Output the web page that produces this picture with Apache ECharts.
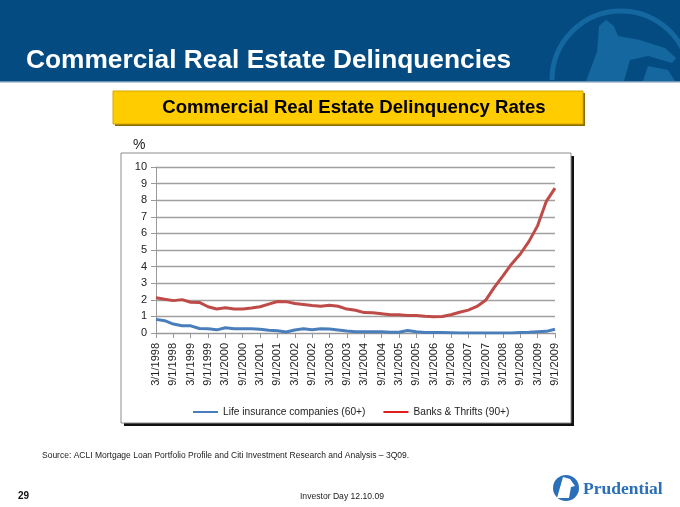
<!DOCTYPE html>
<html><head><meta charset="utf-8">
<script src="https://cdn.jsdelivr.net/npm/echarts@6/dist/echarts.min.js"></script>
<style>html,body{margin:0;padding:0;background:#fff}#c{width:680px;height:507px}</style>
</head><body><div id="c"></div>
<script>
const categories = [
 "3/1/1998","6/1/1998","9/1/1998","12/1/1998",
 "3/1/1999","6/1/1999","9/1/1999","12/1/1999",
 "3/1/2000","6/1/2000","9/1/2000","12/1/2000",
 "3/1/2001","6/1/2001","9/1/2001","12/1/2001",
 "3/1/2002","6/1/2002","9/1/2002","12/1/2002",
 "3/1/2003","6/1/2003","9/1/2003","12/1/2003",
 "3/1/2004","6/1/2004","9/1/2004","12/1/2004",
 "3/1/2005","6/1/2005","9/1/2005","12/1/2005",
 "3/1/2006","6/1/2006","9/1/2006","12/1/2006",
 "3/1/2007","6/1/2007","9/1/2007","12/1/2007",
 "3/1/2008","6/1/2008","9/1/2008","12/1/2008",
 "3/1/2009","6/1/2009","9/1/2009"
];
const lifeInsurance = [
 0.82,0.74,0.54,0.44,0.43,0.27,0.25,0.19,0.32,0.25,0.25,0.25,
 0.23,0.17,0.13,0.06,0.18,0.26,0.19,0.26,0.24,0.18,0.12,0.08,
 0.07,0.08,0.07,0.05,0.04,0.15,0.07,0.03,0.03,0.03,0.02,0.00,
 0.00,0.00,0.00,0.00,0.00,0.00,0.03,0.04,0.08,0.10,0.23
];
const banksThrifts = [
 2.12,2.03,1.95,2.01,1.85,1.84,1.58,1.45,1.52,1.44,1.44,1.50,
 1.58,1.74,1.90,1.89,1.78,1.72,1.66,1.61,1.67,1.61,1.44,1.37,
 1.23,1.22,1.16,1.10,1.10,1.06,1.06,1.01,0.98,0.99,1.10,1.25,
 1.38,1.60,1.97,2.75,3.44,4.16,4.76,5.52,6.47,7.93,8.73
];
const yTicks = [0,1,2,3,4,5,6,7,8,9,10];
const seriesNames = ["Life insurance companies (60+)","Banks & Thrifts (90+)"];
const titleText = "Commercial Real Estate Delinquencies";
const subtitleText = "Commercial Real Estate Delinquency Rates";
const sourceText = "Source: ACLI Mortgage Loan Portfolio Profile and Citi Investment Research and Analysis \u2013 3Q09.";

const FONT = '"Liberation Sans", Arial, sans-serif';
const chart = echarts.init(document.getElementById('c'), null, {renderer:'canvas'});
chart.setOption({
  animation:false,
  backgroundColor:'#ffffff',
  textStyle:{fontFamily:FONT},
  graphic:[
    // header band
    {type:'rect', z:-20, shape:{x:0,y:0,width:680,height:82}, style:{fill:'#034b80'}},
    {type:'rect', z:-19, shape:{x:0,y:81,width:680,height:1.5}, style:{fill:'#6f93b3'}},
    {type:'arc', z:-18, shape:{cx:621,cy:80,r:69,startAngle:Math.PI*1.0,endAngle:Math.PI*1.92}, style:{stroke:'#15679f',lineWidth:5,fill:null}},
    {type:'polygon', z:-18, shape:{points:[[586,81],[597,52],[599,26],[606,20],[614,26],[618,36],[640,40],[665,48],[676,58],[672,63],[648,56],[630,60],[624,81]]}, style:{fill:'#15679f'}},
    {type:'polygon', z:-18, shape:{points:[[643,81],[648,66],[668,70],[675,81]]}, style:{fill:'#15679f'}},
    {type:'text', z:-10, style:{x:26,y:61,text:titleText,fill:'#ffffff',font:'bold 26.3px '+FONT,textVerticalAlign:'middle'}},
    // yellow subtitle box
    {type:'rect', z:-20, shape:{x:115,y:93,width:470,height:33}, style:{fill:'#8a6d00'}},
    {type:'rect', z:-19, shape:{x:113,y:91,width:470,height:33}, style:{fill:'#ffcc00',stroke:'#d4a800',lineWidth:1}},
    {type:'text', z:-10, style:{x:354,y:108,text:subtitleText,fill:'#000000',font:'bold 18.6px '+FONT,textAlign:'center',textVerticalAlign:'middle'}},
    // chart frame
    {type:'rect', z:-20, shape:{x:124,y:156,width:450,height:270}, style:{fill:'#111111'}},
    {type:'rect', z:-19, shape:{x:121,y:153,width:450,height:270}, style:{fill:'#ffffff',stroke:'#8c8c8c',lineWidth:1}},
    {type:'text', z:5, style:{x:133,y:145,text:'%',fill:'#222',font:'14px '+FONT,textVerticalAlign:'middle'}},
    // footer
    {type:'text', z:5, style:{x:42,y:456,text:sourceText,fill:'#222',font:'8.5px '+FONT,textVerticalAlign:'middle'}},
    {type:'text', z:5, style:{x:18,y:496,text:'29',fill:'#111',font:'bold 10px '+FONT,textVerticalAlign:'middle'}},
    {type:'text', z:5, style:{x:342,y:497,text:'Investor Day 12.10.09',fill:'#222',font:'8.6px '+FONT,textAlign:'center',textVerticalAlign:'middle'}},
    {type:'circle', z:5, shape:{cx:566,cy:488,r:13}, style:{fill:'#2a6fb8'}},
    {type:'polygon', z:6, shape:{points:[[557,498],[561,484],[563,477],[570,479],[575,486],[571,487],[569,498]]}, style:{fill:'#ffffff'}},
    {type:'text', z:5, style:{x:583,y:489,text:'Prudential',fill:'#2a6fb8',font:'bold 17.5px "Liberation Serif", "DejaVu Serif", serif',textVerticalAlign:'middle'}}
  ],
  legend:{
    data:seriesNames, left:188, top:402,
    icon:'rect', itemWidth:25, itemHeight:2, itemGap:18,
    textStyle:{fontSize:10.2,color:'#222',fontFamily:FONT}
  },
  grid:{left:156,right:125,top:167,bottom:174,containLabel:false},
  xAxis:{
    type:'category', data:categories, boundaryGap:false,
    axisLine:{show:true,lineStyle:{color:'#999',width:1}},
    axisTick:{show:true,interval:1,length:5,lineStyle:{color:'#999'}},
    axisLabel:{interval:1,rotate:90,margin:10,fontSize:11,color:'#222',fontFamily:FONT},
    splitLine:{show:false}
  },
  yAxis:{
    type:'value', min:0, max:10, interval:1,
    axisLine:{show:true,lineStyle:{color:'#999',width:1}},
    axisTick:{show:true,length:5,lineStyle:{color:'#999'}},
    axisLabel:{margin:9,fontSize:11,color:'#222',fontFamily:FONT,
      formatter:function(v){return yTicks.indexOf(v)>=0?String(v):'';}},
    splitLine:{show:true,lineStyle:{color:'#a0a0a0',width:1.3}}
  },
  series:[
    {name:seriesNames[0], type:'line', data:lifeInsurance, showSymbol:false, symbol:'none',
     lineStyle:{color:'#4a7ebb',width:3}, itemStyle:{color:'#4a7ebb'}, z:3},
    {name:seriesNames[1], type:'line', data:banksThrifts, showSymbol:false, symbol:'none',
     lineStyle:{color:'#be4b48',width:3}, itemStyle:{color:'#e02020'}, z:4}
  ]
});
</script></body></html>
